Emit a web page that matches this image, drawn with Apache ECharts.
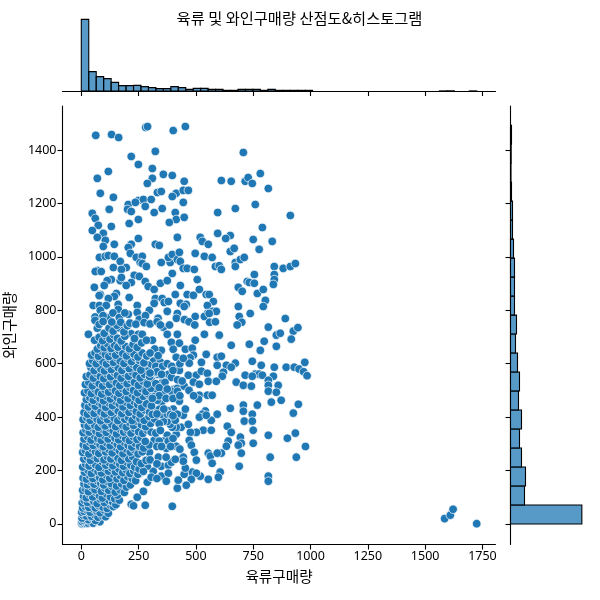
<!DOCTYPE html>
<html><head><meta charset="utf-8">
<style>html,body{margin:0;padding:0;background:#fff}#c{width:600px;height:600px}</style>
<script src="https://cdn.jsdelivr.net/npm/echarts@6/dist/echarts.min.js"></script></head>
<body><div id="c"></div>
<script>
const chartTitle='육류 및 와인구매량 산점도&히스토그램';
const xLabel='육류구매량', yLabel='와인구매량';
const xTicks=[0,250,500,750,1000,1250,1500,1750];
const yTicks=[0,200,400,600,800,1000,1200,1400];
const meatBinWidth=32.55;
const meatCounts=[860,232,172,148,104,64,64,68,52,40,28,28,52,40,20,32,32,20,20,8,8,20,20,20,8,20,8,8,8,8,8,0,0,0,0,0,0,0,0,0,0,0,0,0,0,0,0,0,1,2,0,0,1];
const wineBinWidth=71.1;
const wineCounts=[856,168,180,132,108,132,96,108,84,60,72,48,48,48,36,24,24,12,6,8,12];
const upperPoints=[[63,1455],[132,1458],[163,1447],[281,1485],[289,1488],[401,1473],[454,1488],[323,1395],[218,1376],[249,1346],[707,1391],[118,1320],[310,1331],[358,1309],[397,1305],[70,1294],[310,1294],[288,1275],[449,1283],[611,1286],[654,1283],[715,1283],[728,1297],[746,1275],[781,1312],[816,1256],[83,1238],[140,1223],[332,1241],[349,1245],[414,1238],[397,1226],[445,1249],[467,1249],[205,1196],[249,1211],[271,1215],[305,1215],[236,1204],[445,1204],[279,1189],[122,1178],[202,1178],[218,1170],[353,1181],[318,1166],[48,1163],[410,1166],[61,1144],[414,1140],[449,1148],[595,1166],[672,1181],[759,1196],[912,1155],[209,1125],[249,1140],[384,1129],[74,1118],[131,1114],[790,1110],[48,1099],[96,1088],[70,1073],[105,1062],[96,1039],[144,1047],[249,1069],[419,1073],[519,1073],[528,1058],[554,1047],[595,1088],[650,1080],[630,1069],[750,1065],[833,1058],[776,1028],[218,1047],[205,1035],[323,1047],[340,1043],[214,1013],[79,998],[105,1002],[118,1005],[144,1002],[240,998],[266,1002],[257,979],[266,975],[284,964],[170,983],[196,960],[140,960],[175,953],[349,979],[388,979],[380,998],[397,1009],[419,990],[428,1017],[432,983],[445,957],[462,957],[493,953],[497,1013],[537,1002],[571,998],[585,964],[602,967],[611,953],[650,1020],[667,1032],[672,979],[672,964],[694,990],[711,998],[842,964],[881,957],[912,964],[934,975],[842,934],[842,915],[838,897],[70,949],[61,945],[87,945],[397,938],[231,931],[253,927],[131,915],[113,911],[170,911],[175,923],[218,904],[196,893],[279,908],[292,889],[345,901],[375,911],[432,893],[506,915],[318,878],[755,934],[724,908],[733,904],[755,901],[685,886],[702,871],[768,863],[794,878],[57,886],[100,893],[83,859],[78,855],[153,863],[144,852],[118,844],[209,848],[410,859],[462,859],[489,856],[515,878],[545,859],[558,859],[576,833],[323,844],[318,826],[353,844],[362,829],[380,833],[432,826],[458,822],[449,814],[52,818],[79,818],[109,818],[83,800],[161,822],[161,803],[244,818],[244,792],[297,800],[205,785],[375,796],[419,788],[550,818],[550,788],[572,796],[589,796],[685,814],[803,837],[794,814],[689,777],[737,788],[890,769],[118,773],[138,790],[166,773],[253,766],[497,777],[537,777],[558,788],[415,770],[60,775],[95,780],[190,790],[280,780],[335,770],[450,765]];
const lowerPoints=[[31,710],[70,733],[218,712],[249,710],[266,710],[310,688],[358,737],[375,710],[419,710],[393,680],[428,677],[497,688],[537,710],[602,707],[654,669],[733,673],[798,684],[851,707],[868,714],[851,665],[816,737],[925,722],[945,735],[916,692],[781,650],[349,650],[401,654],[454,654],[484,658],[489,632],[545,635],[593,624],[611,628],[414,624],[475,622],[471,602],[524,605],[593,594],[633,594],[672,602],[654,587],[746,609],[785,594],[842,587],[894,587],[929,587],[950,580],[975,605],[970,570],[985,555],[315,610],[345,606],[315,583],[340,587],[292,595],[270,587],[288,572],[428,575],[467,557],[502,557],[524,572],[550,564],[620,568],[615,553],[676,531],[715,557],[759,561],[776,561],[790,557],[838,553],[707,519],[742,516],[746,553],[816,538],[816,519],[859,519],[816,497],[851,493],[829,456],[872,463],[768,445],[947,448],[925,415],[707,445],[707,422],[746,411],[711,385],[746,385],[750,351],[650,433],[637,366],[654,343],[694,325],[698,302],[685,295],[641,310],[633,291],[750,302],[816,332],[899,321],[934,340],[938,250],[824,250],[816,179],[816,160],[689,216],[698,265],[978,290],[380,560],[401,503],[419,508],[349,527],[393,549],[449,516],[489,531],[515,523],[515,482],[511,467],[554,534],[589,534],[550,482],[571,482],[593,411],[541,423],[528,411],[515,400],[567,388],[545,407],[532,351],[567,351],[502,343],[476,343],[471,313],[480,295],[493,268],[502,239],[554,265],[563,254],[571,227],[611,265],[593,265],[606,194],[598,175],[554,167],[519,179],[484,194],[502,190],[480,167],[458,145],[419,134],[423,164],[449,186],[454,209],[445,250],[445,235],[336,250],[349,216],[380,220],[393,231],[410,242],[349,179],[380,190],[371,160],[397,66],[279,70],[218,74],[228,68],[244,100],[271,122],[314,197],[288,156],[257,190],[250,186],[414,291],[371,283],[414,336],[375,332],[358,310],[318,313],[297,268],[288,216],[436,362],[467,373],[414,362],[397,362],[388,373],[375,384],[358,384],[445,407],[454,430],[428,460],[401,430],[375,425],[349,452],[332,463],[297,463],[292,425],[315,429],[340,429],[419,411],[410,388],[349,411],[375,411],[323,493],[358,493],[393,497],[419,497],[305,540],[270,540],[335,560]];
const denseLow=[[1,1],[5,0],[9,3],[12,2],[18,6],[22,2],[30,3],[40,7],[52,3],[66,12],[81,8],[3,9],[8,14],[14,19],[31,16],[47,22],[62,13],[3,22],[7,33],[21,30],[36,38],[44,29],[58,35],[73,25],[91,31],[106,27],[2,44],[12,47],[26,51],[39,44],[53,56],[67,48],[82,42],[99,53],[118,40],[6,60],[17,66],[33,62],[48,72],[61,60],[76,68],[94,63],[113,58],[126,71],[140,65],[4,79],[13,88],[27,81],[41,94],[55,84],[69,76],[83,93],[101,80],[120,89],[137,82],[151,72],[10,104],[22,98],[36,111],[50,101],[64,118],[79,106],[92,97],[110,112],[127,101],[146,94],[166,89],[158,108],[6,126],[18,131],[31,121],[46,138],[60,128],[74,143],[88,122],[103,134],[119,126],[134,141],[148,119],[170,127],[188,118],[12,150],[27,147],[41,159],[56,149],[70,162],[85,152],[98,146],[116,158],[131,151],[154,142],[176,150],[197,138],[214,146]];
const denseMid=[[8,172],[22,168],[37,181],[51,170],[66,186],[80,174],[94,165],[109,183],[124,171],[139,187],[156,169],[171,180],[186,163],[203,177],[222,170],[237,162],[14,194],[29,201],[44,189],[59,207],[73,196],[88,191],[103,209],[118,198],[133,210],[149,195],[164,206],[181,192],[196,203],[212,189],[229,199],[247,186],[6,213],[19,224],[34,217],[48,230],[63,221],[77,212],[92,233],[107,220],[123,229],[138,218],[153,235],[168,224],[184,216],[200,231],[216,220],[233,213],[252,206],[271,197],[11,243],[26,250],[40,238],[55,255],[70,245],[84,257],[99,240],[114,252],[129,243],[144,259],[160,247],[175,238],[191,255],[207,244],[224,252],[241,233],[262,226],[283,238],[6,268],[18,275],[33,262],[47,281],[62,271],[76,264],[91,284],[106,270],[120,279],[135,266],[151,286],[166,274],[182,263],[197,280],[214,269],[231,278],[248,262],[266,270],[9,296],[23,290],[38,305],[52,294],[67,308],[82,297],[96,289],[111,303],[126,293],[142,310],[157,298],[172,289],[188,306],[204,295],[220,288],[236,302],[254,291],[272,284],[296,296],[12,318],[28,326],[43,314],[58,331],[72,320],[87,313],[102,329],[117,318],[132,334],[147,322],[163,315],[178,331],[194,319],[210,312],[226,327],[243,316],[261,324],[279,309],[8,342],[20,353],[35,344],[49,359],[64,347],[79,338],[94,354],[109,343],[124,358],[139,349],[154,337],[170,355],[185,344],[201,352],[217,340],[233,357],[250,345],[268,339],[287,352],[305,344],[325,340],[14,371],[30,366],[45,380],[59,369],[74,362],[89,378],[104,367],[119,384],[134,372],[150,364],[165,381],[180,370],[196,363],[212,379],[228,369],[245,384],[262,372],[281,364],[302,376],[8,391],[24,398],[39,388],[54,404],[69,393],[84,386],[99,401],[114,391],[129,406],[144,396],[159,387],[175,403],[190,392],[206,399],[222,387],[238,405],[256,394],[274,388],[296,402],[320,393]];
const denseHigh=[[12,417],[27,411],[42,426],[56,414],[71,432],[86,420],[101,412],[116,428],[131,418],[146,434],[161,423],[177,413],[192,429],[208,418],[224,433],[240,421],[257,412],[276,427],[298,418],[16,444],[31,438],[46,452],[61,441],[76,456],[91,446],[106,437],[121,453],[136,443],[151,458],[166,449],[182,438],[198,455],[214,444],[230,459],[246,447],[264,436],[284,450],[306,442],[22,466],[37,473],[52,463],[67,480],[82,470],[97,461],[112,477],[127,468],[142,484],[157,473],[172,462],[188,480],[204,469],[220,486],[236,474],[252,463],[270,478],[290,488],[316,476],[14,491],[29,498],[44,488],[59,505],[74,494],[89,486],[104,502],[119,493],[134,510],[149,499],[164,489],[180,506],[196,496],[212,511],[228,500],[245,491],[263,507],[282,496],[304,508],[18,522],[33,530],[48,517],[63,535],[78,525],[93,516],[108,533],[123,522],[138,540],[153,528],[168,518],[184,536],[200,525],[216,541],[232,530],[249,519],[268,535],[288,524],[22,552],[38,558],[53,546],[68,563],[83,552],[98,544],[113,561],[128,551],[143,568],[158,556],[174,546],[190,564],[206,553],[222,569],[239,557],[257,547],[276,560],[298,552],[325,568],[42,586],[56,574],[71,592],[86,580],[101,573],[116,590],[131,578],[146,596],[161,585],[177,575],[193,593],[209,582],[225,598],[242,586],[260,576],[36,601],[50,612],[65,600],[80,618],[95,607],[110,599],[125,616],[140,605],[155,622],[170,610],[186,601],[203,619],[219,608],[236,623],[254,612],[273,603],[45,632],[60,641],[75,628],[90,646],[105,635],[120,627],[135,643],[150,632],[165,650],[181,638],[197,629],[213,647],[230,636],[247,625],[266,640],[286,629],[70,655],[85,668],[100,660],[115,674],[130,657],[145,670],[160,662],[178,677],[194,664],[210,656],[226,672],[244,661],[263,678],[58,688],[78,699],[93,686],[108,704],[125,692],[142,708],[158,695],[174,685],[190,703],[232,694],[284,688],[100,714],[121,733],[139,722],[167,734],[186,719],[155,744],[133,756],[172,755],[201,742],[60,762],[78,747],[95,758],[212,752],[238,748],[274,754],[300,749],[331,757],[345,745]];
const midExtra=[[320,655],[300,640],[335,630],[325,590],[355,590],[375,600],[395,590],[430,600],[445,620],[330,570],[350,560],[400,575],[300,565],[325,525],[365,530],[420,540],[440,535],[340,510],[375,505],[340,480],[370,470],[400,470],[430,480],[470,500],[490,480],[310,470],[360,430],[390,410],[310,410],[330,412],[400,405],[340,375],[345,350],[340,310],[380,310],[400,320],[330,290],[350,290],[390,290],[430,280],[300,240],[330,225],[370,250],[305,175],[330,170],[385,745],[470,757],[495,745],[560,755],[585,757],[700,755],[680,745]];
const tailPoints=[[1585,20],[1610,33],[1622,55],[1725,1]];
const scatterPoints=upperPoints.concat(lowerPoints,denseLow,denseMid,denseHigh,midExtra,tailPoints);

const meatRows=meatCounts.map((c,i)=>[i*meatBinWidth,(i+1)*meatBinWidth,c]).filter(r=>r[2]>0);
const wineRows=wineCounts.map((c,i)=>[i*wineBinWidth,(i+1)*wineBinWidth,c]).filter(r=>r[2]>0);
const histFill='rgba(31,119,180,0.75)';
const line={show:true,onZero:false,lineStyle:{color:'#000',width:1.1}};
const tick=(v)=>({show:true,length:5,lineStyle:{color:'#000',width:1.1},customValues:v});
const cjk='"Noto Sans CJK KR","Noto Sans",sans-serif';
const latin='"Noto Sans","Noto Sans CJK KR",sans-serif';
const plain=(v)=>String(v);
const chart=echarts.init(document.getElementById('c'),null,{renderer:'canvas'});
chart.setOption({
 animation:false,backgroundColor:'#fff',
 textStyle:{fontFamily:cjk},
 title:{text:chartTitle,left:294.5,top:6,textAlign:'center',textStyle:{fontFamily:cjk,fontSize:15.3,fontWeight:'normal',color:'#000'}},
 grid:[{left:62.5,top:106,width:433,height:438.5,outerBoundsMode:'none'},{left:62.5,top:16,width:433,height:75,outerBoundsMode:'none'},{left:510.5,top:106,width:75,height:438.5,outerBoundsMode:'none'}],
 xAxis:[
  {gridIndex:0,type:'value',min:-82,max:1807,position:'bottom',axisLine:line,axisTick:tick(xTicks),splitLine:{show:false},
   axisLabel:{show:true,customValues:xTicks,formatter:plain,color:'#000',fontSize:12.5,fontFamily:latin,margin:6,hideOverlap:false},
   name:xLabel,nameLocation:'middle',nameGap:25,nameTextStyle:{fontSize:14.6,color:'#000',fontFamily:cjk}},
  {gridIndex:1,type:'value',min:-82,max:1807,position:'bottom',axisLine:line,axisTick:tick(xTicks),axisLabel:{show:false},splitLine:{show:false}},
  {gridIndex:2,type:'value',min:0,max:900,show:false}
 ],
 yAxis:[
  {gridIndex:0,type:'value',min:-77,max:1565,position:'left',axisLine:line,axisTick:tick(yTicks),splitLine:{show:false},
   axisLabel:{show:true,customValues:yTicks,formatter:plain,color:'#000',fontSize:12.5,fontFamily:latin,margin:6,hideOverlap:false},
   name:yLabel,nameLocation:'middle',nameGap:46,nameRotate:90,nameTextStyle:{fontSize:14.6,color:'#000',fontFamily:cjk}},
  {gridIndex:1,type:'value',min:0,max:900,show:false},
  {gridIndex:2,type:'value',min:-77,max:1565,position:'left',axisLine:line,axisTick:tick(yTicks),axisLabel:{show:false},splitLine:{show:false}}
 ],
 series:[
  {type:'scatter',xAxisIndex:0,yAxisIndex:0,data:scatterPoints,symbol:'circle',symbolSize:8.6,
   itemStyle:{color:'#1f77b4',opacity:1,borderColor:'#fff',borderWidth:0.7},clip:false},
  {type:'custom',xAxisIndex:1,yAxisIndex:1,data:meatRows,clip:false,encode:{x:[0,1],y:2},
   renderItem:(p,api)=>{const a=api.coord([api.value(0),0]),b=api.coord([api.value(1),api.value(2)]);
    return {type:'rect',shape:{x:a[0],y:b[1],width:b[0]-a[0],height:a[1]-b[1]},style:{fill:histFill,stroke:'#000',lineWidth:1.1}};}},
  {type:'custom',xAxisIndex:2,yAxisIndex:2,data:wineRows,clip:false,encode:{x:2,y:[0,1]},
   renderItem:(p,api)=>{const a=api.coord([0,api.value(0)]),b=api.coord([api.value(2),api.value(1)]);
    return {type:'rect',shape:{x:a[0],y:b[1],width:b[0]-a[0],height:a[1]-b[1]},style:{fill:histFill,stroke:'#000',lineWidth:1.1}};}}
 ]
});
</script></body></html>
